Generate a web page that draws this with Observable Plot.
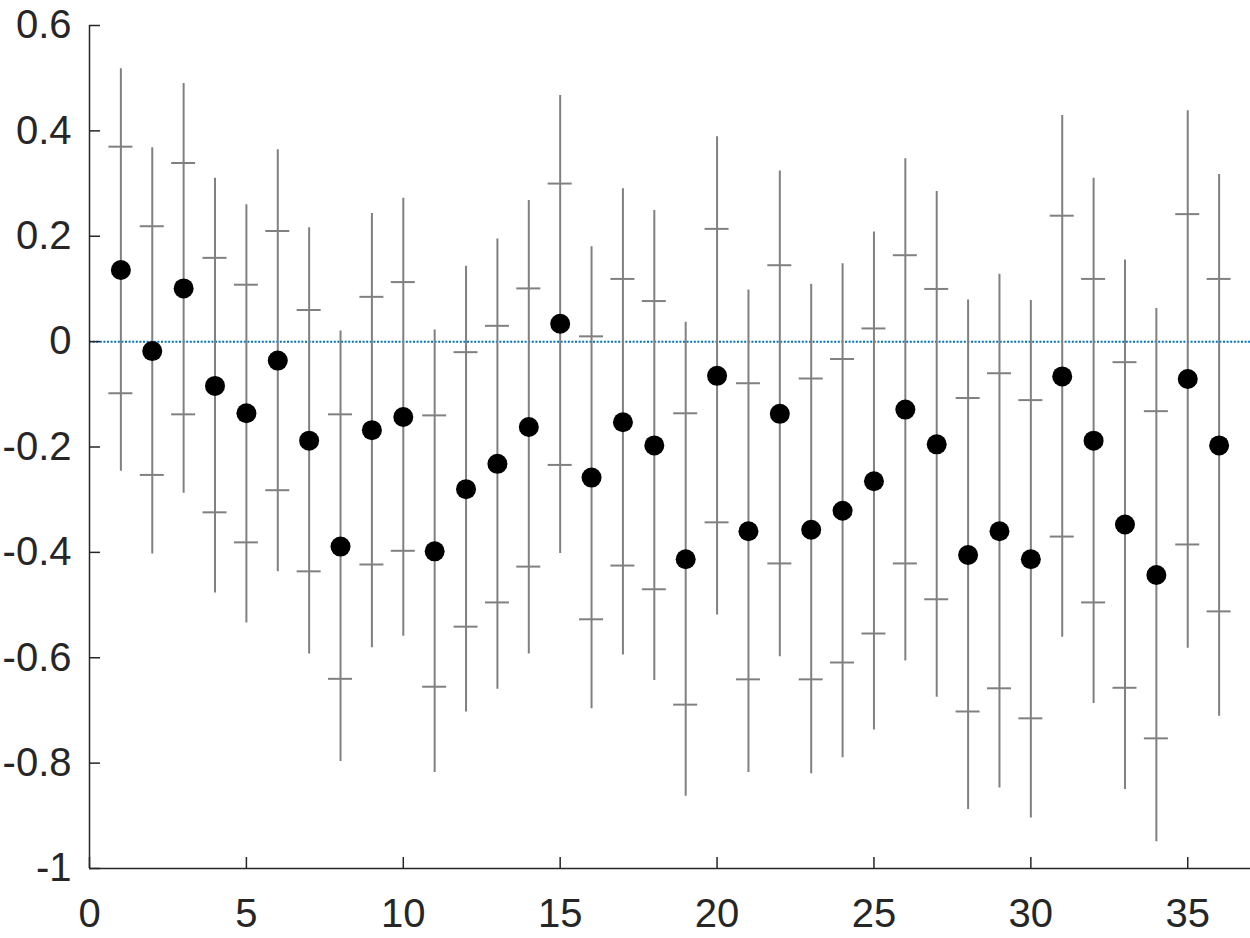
<!DOCTYPE html>
<html>
<head>
<meta charset="utf-8">
<script src="https://cdn.jsdelivr.net/npm/d3@7"></script>
<script src="https://cdn.jsdelivr.net/npm/@observablehq/plot@0.6"></script>
<style>
  html, body { margin: 0; padding: 0; background: #ffffff; }
  #chart { width: 1250px; height: 938px; }
</style>
</head>
<body>
<div id="chart"></div>
<script>
// Categories (x positions)
const idx = [1,2,3,4,5,6,7,8,9,10,11,12,13,14,15,16,17,18,19,20,21,22,23,24,25,26,27,28,29,30,31,32,33,34,35,36];
// Point estimates (dots)
const mean = [0.136,-0.018,0.101,-0.084,-0.136,-0.036,-0.188,-0.389,-0.168,-0.143,-0.398,-0.280,-0.232,-0.162,0.034,-0.258,-0.153,-0.197,-0.413,-0.065,-0.360,-0.137,-0.357,-0.321,-0.265,-0.129,-0.195,-0.405,-0.360,-0.413,-0.066,-0.188,-0.347,-0.443,-0.071,-0.197];
// Inner interval (short horizontal ticks)
const innerHi = [0.370,0.219,0.339,0.159,0.108,0.210,0.060,-0.138,0.085,0.113,-0.140,-0.020,0.030,0.101,0.300,0.010,0.119,0.077,-0.136,0.214,-0.079,0.145,-0.070,-0.033,0.025,0.164,0.100,-0.107,-0.060,-0.111,0.239,0.119,-0.039,-0.132,0.242,0.119];
const innerLo = [-0.098,-0.253,-0.138,-0.324,-0.381,-0.282,-0.436,-0.640,-0.423,-0.397,-0.655,-0.541,-0.495,-0.427,-0.234,-0.527,-0.425,-0.470,-0.689,-0.343,-0.641,-0.421,-0.641,-0.609,-0.554,-0.421,-0.489,-0.702,-0.658,-0.715,-0.370,-0.495,-0.657,-0.753,-0.385,-0.512];
// Outer interval (vertical whiskers)
const outerHi = [0.518,0.368,0.490,0.310,0.260,0.364,0.216,0.020,0.243,0.272,0.022,0.143,0.195,0.268,0.467,0.180,0.290,0.249,0.037,0.389,0.098,0.324,0.109,0.148,0.208,0.347,0.285,0.079,0.128,0.078,0.429,0.310,0.155,0.063,0.438,0.317];
const outerLo = [-0.246,-0.403,-0.288,-0.477,-0.534,-0.437,-0.593,-0.797,-0.581,-0.559,-0.818,-0.703,-0.660,-0.593,-0.402,-0.697,-0.595,-0.643,-0.863,-0.519,-0.818,-0.598,-0.820,-0.790,-0.737,-0.606,-0.675,-0.888,-0.847,-0.904,-0.561,-0.687,-0.850,-0.949,-0.582,-0.711];
// Tick values and labels
const xTicks = [0,5,10,15,20,25,30,35];
const yTicks = [-1,-0.8,-0.6,-0.4,-0.2,0,0.2,0.4,0.6];
const yTickLabels = ["-1","-0.8","-0.6","-0.4","-0.2","0","0.2","0.4","0.6"];
const xDomain = [0, 37];
const yDomain = [-1, 0.6];
const refLine = [0];

const rows = idx.map((x, i) => ({
  x, mean: mean[i], innerHi: innerHi[i], innerLo: innerLo[i], outerHi: outerHi[i], outerLo: outerLo[i]
}));

const W = 1250, H = 938;
const mL = 89, mR = 0, mT = 25, mB = 70;
const tickLen = 11;
const axisColor = "#262626";
const barColor = "#808080";

const chart = Plot.plot({
  width: W,
  height: H,
  marginLeft: mL,
  marginRight: mR,
  marginTop: mT,
  marginBottom: mB,
  style: {fontFamily: "'Liberation Sans', Arial, Helvetica, sans-serif", fontSize: "40px", color: axisColor, background: "#ffffff"},
  x: {domain: xDomain, label: null},
  y: {domain: yDomain, label: null},
  marks: [
    // zero reference line
    Plot.ruleY(refLine, {stroke: "#0072BD", strokeWidth: 2, strokeDasharray: "2,1.6"}),
    // outer whiskers
    Plot.ruleX(rows, {x: "x", y1: "outerLo", y2: "outerHi", stroke: barColor, strokeWidth: 2}),
    // inner interval ticks
    Plot.ruleY(rows, {y: "innerHi", x1: "x", x2: "x", insetLeft: -12, insetRight: -12, stroke: barColor, strokeWidth: 2}),
    Plot.ruleY(rows, {y: "innerLo", x1: "x", x2: "x", insetLeft: -12, insetRight: -12, stroke: barColor, strokeWidth: 2}),
    // dots
    Plot.dot(rows, {x: "x", y: "mean", r: 10, fill: "#000000", stroke: null}),
    // axis lines
    Plot.ruleX([xDomain[0]], {stroke: axisColor, strokeWidth: 1.5}),
    Plot.ruleY([yDomain[0]], {stroke: axisColor, strokeWidth: 1.5}),
    // inward ticks
    Plot.tickY(yTicks, {y: d => d, insetRight: (W - mL - mR) - tickLen, stroke: axisColor, strokeWidth: 1.5}),
    Plot.tickX(xTicks, {x: d => d, insetTop: (H - mT - mB) - tickLen, stroke: axisColor, strokeWidth: 1.5}),
    // tick labels
    Plot.axisY(yTicks, {tickSize: 0, tickPadding: 18, label: null, tickFormat: d => yTickLabels[yTicks.indexOf(d)], fill: axisColor, fontSize: 40}),
    Plot.axisX(xTicks, {tickSize: 0, tickPadding: 30, label: null, tickFormat: d => String(d), fill: axisColor, fontSize: 40})
  ]
});

document.getElementById("chart").appendChild(chart);
</script>
</body>
</html>
